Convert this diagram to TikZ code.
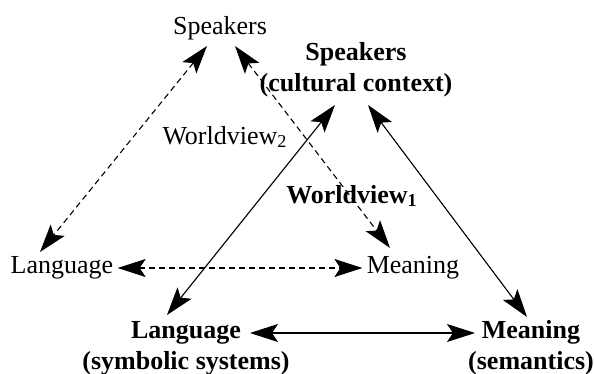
\documentclass[tikz,border=0pt]{standalone}
\usepackage{fontspec}
\setmainfont{Liberation Serif}
\usetikzlibrary{arrows.meta,calc}
\tikzset{
  lbl/.style={inner sep=2pt, align=center, font=\fontsize{13}{15.5}\selectfont},
  bfl/.style={lbl, font=\fontsize{13}{15.5}\selectfont\bfseries},
  link/.style={{Stealth[length=14pt,width=9pt,inset=3pt]}-{Stealth[length=14pt,width=9pt,inset=3pt]}, line width=0.55pt},
  dlink/.style={link, dash pattern=on 3pt off 2pt}
}

\begin{document}
\begin{tikzpicture}[x=0.5pt, y=-0.5pt]
            \useasboundingbox (0,0) rectangle (594,374);
            % worldview 2 (dashed)
            \node[lbl] (spk1)  at (220, 28)  {Speakers};
            \node[lbl] (lang1) at ( 62, 268) {Language};
            \node[lbl] (mean1) at (413, 268) {Meaning};
            \node[lbl] (wv2)   at (225, 137) {Worldview\textsubscript{2}};
            % worldview 1 (solid)
            \node[bfl] (spk2)  at (356, 70)  {Speakers\\(cultural context)};
            \node[bfl] (lang2) at (186, 348) {Language\\(symbolic systems)};
            \node[bfl] (mean2) at (531, 348) {Meaning\\(semantics)};
            \node[bfl] (wv1)   at (352, 196) {Worldview\textsubscript{1}};

            \draw[dlink] ($(spk1)+(-13,18)$) -- ($(lang1)+(-22,-16)$);
            \draw[dlink] ($(spk1)+(15,18)$)  -- ($(mean1)+(-23,-20)$);
            \draw[dlink] (lang1.east) -- (mean1.west);

            \draw[link]  ($(spk2)+(-21,35)$) -- ($(lang2)+(-19,-33)$);
            \draw[link]  ($(spk2)+(12,35)$)  -- ($(mean2)+(-4,-31)$);
            \draw[link]  ($(lang2)+(64,-15)$) -- ($(mean2)+(-56,-15)$);
        \end{tikzpicture}
\end{document}
